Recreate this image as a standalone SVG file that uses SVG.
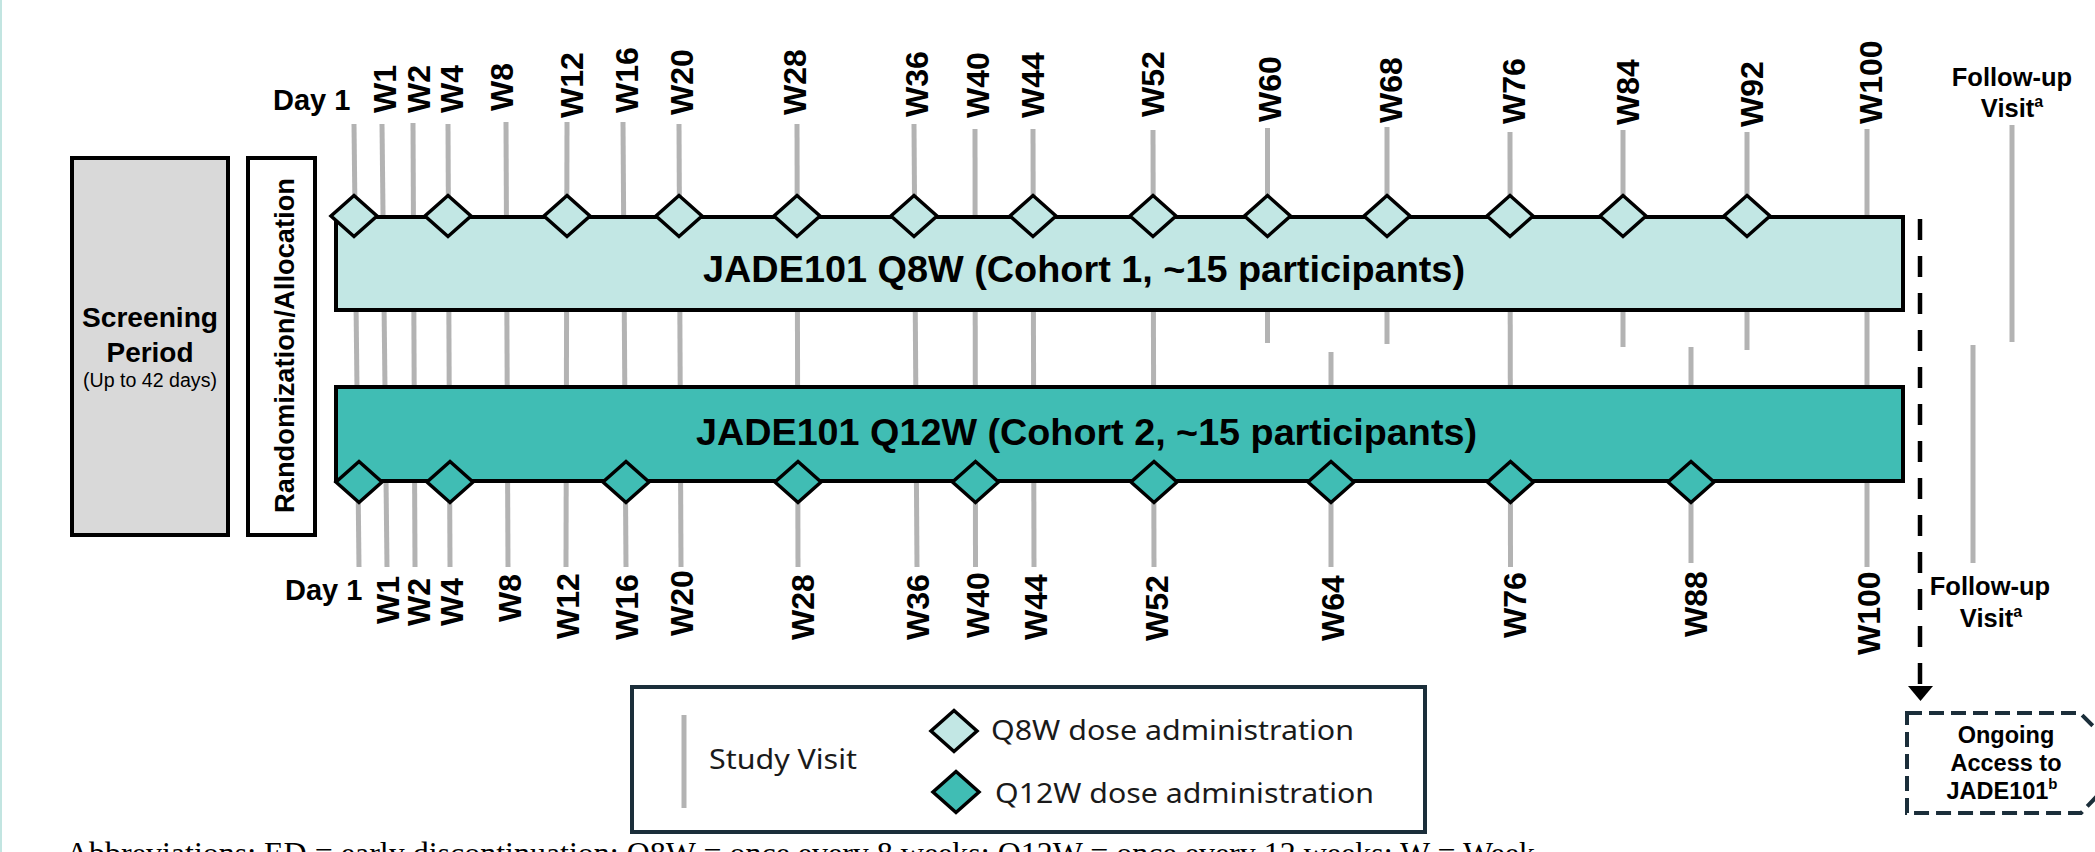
<svg xmlns="http://www.w3.org/2000/svg" xmlns:xlink="http://www.w3.org/1999/xlink" width="2095" height="852" viewBox="0 0 2095 852">
<style>
.tick{stroke:#b3b3b3;stroke-width:5;fill:none}
.bar{stroke:#000;stroke-width:4}
.c1{fill:#c2e7e4}
.c2{fill:#40bdb4}
.dm{stroke:#000;stroke-width:3.5;stroke-linejoin:miter}
.wl{font-family:"Liberation Sans",Arial,sans-serif;font-weight:bold;font-size:32px;fill:#000}
.lb{font-family:"Liberation Sans",Arial,sans-serif;font-weight:bold;fill:#000}
.lr{font-family:"Liberation Sans",Arial,sans-serif;fill:#000}
.lg{font-family:"Noto Sans","Liberation Sans",sans-serif;font-size:27.5px;fill:#1a1a1a}
</style>
<defs>
<path id="dm" d="M0,-20.5 L23,0 L0,20.5 L-23,0 Z"/>
</defs>
<rect width="2095" height="852" fill="#fff"/>
<line x1="1" y1="0" x2="1" y2="852" stroke="#c2e5e1" stroke-width="2"/>

<g id="connectors">
<line class="tick" x1="354" y1="124" x2="359" y2="567"/>
<line class="tick" x1="382" y1="124" x2="387" y2="567"/>
<line class="tick" x1="413" y1="123" x2="415" y2="567"/>
<line class="tick" x1="448" y1="124" x2="450" y2="567"/>
<line class="tick" x1="506" y1="122" x2="508" y2="567"/>
<line class="tick" x1="567" y1="122" x2="566" y2="567"/>
<line class="tick" x1="623" y1="122" x2="626" y2="567"/>
<line class="tick" x1="679" y1="124" x2="681" y2="567"/>
<line class="tick" x1="797" y1="124" x2="798" y2="567"/>
<line class="tick" x1="914" y1="124" x2="917" y2="567"/>
<line class="tick" x1="975" y1="129" x2="975.5" y2="567"/>
<line class="tick" x1="1033" y1="129" x2="1034" y2="567"/>
<line class="tick" x1="1153" y1="130" x2="1154" y2="567"/>
<line class="tick" x1="1510" y1="132" x2="1510.5" y2="567"/>
<line class="tick" x1="1867" y1="129" x2="1867" y2="567"/>
<line class="tick" x1="1267.5" y1="128" x2="1267.5" y2="343"/>
<line class="tick" x1="1387" y1="127" x2="1387" y2="344"/>
<line class="tick" x1="1623" y1="130" x2="1623" y2="347"/>
<line class="tick" x1="1747" y1="132" x2="1747" y2="350"/>
<line class="tick" x1="1331" y1="352" x2="1331" y2="567"/>
<line class="tick" x1="1691" y1="347" x2="1691" y2="563"/>
<line class="tick" x1="2012" y1="125" x2="2012" y2="342"/>
<line class="tick" x1="1973" y1="345" x2="1973" y2="563"/>
<line x1="1920" y1="219" x2="1920" y2="687" stroke="#000" stroke-width="4.5" stroke-dasharray="21 16"/>
<polygon points="1908,686 1933,686 1920.5,701" fill="#000"/>
</g>

<g id="screening">
<rect x="72" y="158" width="156" height="377" fill="#d9d9d9" stroke="#000" stroke-width="4"/>
<text class="lb" x="150" y="327" font-size="28" text-anchor="middle" textLength="136" lengthAdjust="spacingAndGlyphs">Screening</text>
<text class="lb" x="150" y="362" font-size="28" text-anchor="middle" textLength="87" lengthAdjust="spacingAndGlyphs">Period</text>
<text class="lr" x="150" y="387" font-size="19.5" text-anchor="middle" textLength="134" lengthAdjust="spacingAndGlyphs">(Up to 42 days)</text>
</g>

<g id="randomization">
<rect x="248" y="158" width="67" height="377" fill="#fff" stroke="#000" stroke-width="4"/>
<text class="lb" x="294" y="345.5" font-size="27.5" text-anchor="middle" transform="rotate(-90 294 345.5)" textLength="335" lengthAdjust="spacingAndGlyphs">Randomization/Allocation</text>
</g>

<g id="cohort1">
<rect class="bar c1" x="336" y="217" width="1567" height="93"/>
<text class="lb" x="703" y="282" font-size="37.5" textLength="762" lengthAdjust="spacingAndGlyphs">JADE101 Q8W (Cohort 1, ~15 participants)</text>
<g class="dm c1">
<use xlink:href="#dm" x="354" y="216"/>
<use xlink:href="#dm" x="448" y="216"/>
<use xlink:href="#dm" x="567" y="216"/>
<use xlink:href="#dm" x="679" y="216"/>
<use xlink:href="#dm" x="797" y="216"/>
<use xlink:href="#dm" x="914" y="216"/>
<use xlink:href="#dm" x="1033" y="216"/>
<use xlink:href="#dm" x="1153" y="216"/>
<use xlink:href="#dm" x="1267.5" y="216"/>
<use xlink:href="#dm" x="1387" y="216"/>
<use xlink:href="#dm" x="1510" y="216"/>
<use xlink:href="#dm" x="1623" y="216"/>
<use xlink:href="#dm" x="1747" y="216"/>
</g>
</g>

<g id="cohort2">
<rect class="bar c2" x="336" y="387" width="1567" height="94"/>
<text class="lb" x="696" y="445" font-size="37.5" textLength="781" lengthAdjust="spacingAndGlyphs">JADE101 Q12W (Cohort 2, ~15 participants)</text>
<g class="dm c2">
<use xlink:href="#dm" x="359" y="482"/>
<use xlink:href="#dm" x="450" y="482"/>
<use xlink:href="#dm" x="626" y="482"/>
<use xlink:href="#dm" x="798" y="482"/>
<use xlink:href="#dm" x="975.5" y="482"/>
<use xlink:href="#dm" x="1154" y="482"/>
<use xlink:href="#dm" x="1331" y="482"/>
<use xlink:href="#dm" x="1510.5" y="482"/>
<use xlink:href="#dm" x="1691" y="482"/>
</g>
</g>

<g id="top-labels">
<text class="lb" x="273" y="110" font-size="29">Day 1</text>
<text class="wl" transform="translate(396 113) rotate(-90)">W1</text>
<text class="wl" transform="translate(429.5 113) rotate(-90)">W2</text>
<text class="wl" transform="translate(463 113) rotate(-90)">W4</text>
<text class="wl" transform="translate(512.5 111) rotate(-90)">W8</text>
<text class="wl" transform="translate(582.6 118) rotate(-90)">W12</text>
<text class="wl" transform="translate(638 113) rotate(-90)">W16</text>
<text class="wl" transform="translate(693 115) rotate(-90)">W20</text>
<text class="wl" transform="translate(806 115) rotate(-90)">W28</text>
<text class="wl" transform="translate(928 117) rotate(-90)">W36</text>
<text class="wl" transform="translate(989 118) rotate(-90)">W40</text>
<text class="wl" transform="translate(1044 118) rotate(-90)">W44</text>
<text class="wl" transform="translate(1163.5 117) rotate(-90)">W52</text>
<text class="wl" transform="translate(1280.5 122) rotate(-90)">W60</text>
<text class="wl" transform="translate(1402 123) rotate(-90)">W68</text>
<text class="wl" transform="translate(1525 124) rotate(-90)">W76</text>
<text class="wl" transform="translate(1639 125) rotate(-90)">W84</text>
<text class="wl" transform="translate(1763 127) rotate(-90)">W92</text>
<text class="wl" transform="translate(1882 124) rotate(-90)">W100</text>
<text class="lb" x="2012" y="86" font-size="25.5" text-anchor="middle">Follow-up</text>
<text class="lb" x="2012" y="117" font-size="25.5" text-anchor="middle">Visit<tspan font-size="16" dy="-10">a</tspan></text>
</g>

<g id="bottom-labels">
<text class="lb" x="285" y="600" font-size="29">Day 1</text>
<text class="wl" transform="translate(398.7 624) rotate(-90)">W1</text>
<text class="wl" transform="translate(430 626) rotate(-90)">W2</text>
<text class="wl" transform="translate(463 626) rotate(-90)">W4</text>
<text class="wl" transform="translate(521 622) rotate(-90)">W8</text>
<text class="wl" transform="translate(579 639) rotate(-90)">W12</text>
<text class="wl" transform="translate(637.5 640) rotate(-90)">W16</text>
<text class="wl" transform="translate(693 636) rotate(-90)">W20</text>
<text class="wl" transform="translate(814 640) rotate(-90)">W28</text>
<text class="wl" transform="translate(928.7 640) rotate(-90)">W36</text>
<text class="wl" transform="translate(989 638) rotate(-90)">W40</text>
<text class="wl" transform="translate(1047 640) rotate(-90)">W44</text>
<text class="wl" transform="translate(1167.5 641) rotate(-90)">W52</text>
<text class="wl" transform="translate(1344 641) rotate(-90)">W64</text>
<text class="wl" transform="translate(1525.5 638) rotate(-90)">W76</text>
<text class="wl" transform="translate(1707 637) rotate(-90)">W88</text>
<text class="wl" transform="translate(1880 655) rotate(-90)">W100</text>
<text class="lb" x="1990" y="595" font-size="25.5" text-anchor="middle">Follow-up</text>
<text class="lb" x="1991" y="627" font-size="25.5" text-anchor="middle">Visit<tspan font-size="16" dy="-10">a</tspan></text>
</g>

<g id="ongoing-access">
<path d="M1907,713 H2080 L2099,732 V794 L2081,813 H1907 Z" fill="#fff" stroke="#1b2e3a" stroke-width="4" stroke-dasharray="15 7"/>
<text class="lb" x="2006" y="743" font-size="23.5" text-anchor="middle">Ongoing</text>
<text class="lb" x="2006" y="771" font-size="23.5" text-anchor="middle">Access to</text>
<text class="lb" x="2002" y="799" font-size="23.5" text-anchor="middle">JADE101<tspan font-size="15" dy="-10">b</tspan></text>
</g>

<g id="legend">
<rect x="632" y="687" width="793" height="145" fill="#fff" stroke="#1b2e3a" stroke-width="4"/>
<line class="tick" x1="684" y1="715" x2="684" y2="808"/>
<text class="lg" x="709" y="769" textLength="148" lengthAdjust="spacingAndGlyphs">Study Visit</text>
<use xlink:href="#dm" x="954" y="731" class="dm c1"/>
<text class="lg" x="991" y="740" textLength="363" lengthAdjust="spacingAndGlyphs">Q8W dose administration</text>
<use xlink:href="#dm" x="956" y="792" class="dm c2"/>
<text class="lg" x="995" y="803" textLength="379" lengthAdjust="spacingAndGlyphs">Q12W dose administration</text>
</g>

<g id="footnote">
<text x="66" y="864" font-family="'Liberation Serif','Times New Roman',serif" font-size="32" fill="#000" textLength="1469" lengthAdjust="spacingAndGlyphs">Abbreviations: ED = early discontinuation; Q8W = once every 8 weeks; Q12W = once every 12 weeks; W = Week</text>
</g>
</svg>
